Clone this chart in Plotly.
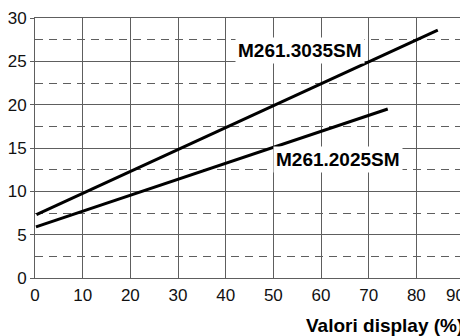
"""Display value vs. output chart for M261 models."""

import plotly.graph_objects as go

# Straight lines (display % -> value)
models = ["M261.3035SM", "M261.2025SM"]
display_pct = [[0.3, 84.5], [0.2, 74.0]]
values = [[7.3, 28.6], [5.9, 19.5]]

# Label anchor positions in data units
label_x = [55.6, 63.6]
label_y = [26.3, 13.7]

x_ticks = [0, 10, 20, 30, 40, 50, 60, 70, 80, 90]
y_ticks = [0, 5, 10, 15, 20, 25, 30]

GRID = "#5e5e5e"
FONT = "Liberation Sans, Arial, sans-serif"

fig = go.Figure()
for name, xs, ys in zip(models, display_pct, values):
    fig.add_trace(
        go.Scatter(
            x=xs,
            y=ys,
            mode="lines",
            name=name,
            line=dict(color="black", width=3),
            showlegend=False,
        )
    )

for name, lx, ly in zip(models, label_x, label_y):
    fig.add_annotation(
        x=lx,
        y=ly,
        text=f"<b>{name}</b>",
        showarrow=False,
        bgcolor="white",
        borderpad=2,
        font=dict(family=FONT, size=19, color="black"),
    )

# last x label sits flush with the right edge instead of centred on its tick
fig.add_annotation(
    x=x_ticks[-1],
    y=0,
    xanchor="right",
    yanchor="middle",
    xshift=3,
    yshift=-17,
    text=str(x_ticks[-1]),
    showarrow=False,
    font=dict(family=FONT, size=17, color="#111111"),
)

fig.add_annotation(
    x=1,
    y=0,
    xref="paper",
    yref="paper",
    xanchor="right",
    yanchor="middle",
    yshift=-47,
    xshift=1,
    text="<b>Valori display (%)</b>",
    showarrow=False,
    font=dict(family=FONT, size=19, color="black"),
)

fig.update_xaxes(
    range=[0, 90],
    tickvals=x_ticks[:-1],
    automargin=False,
    showgrid=True,
    gridcolor=GRID,
    gridwidth=1,
    showline=True,
    linecolor=GRID,
    linewidth=1,
    mirror=True,
    ticks="",
    ticklabelstandoff=2,
    zeroline=False,
    tickfont=dict(family=FONT, size=17, color="#111111"),
)
fig.update_yaxes(
    range=[0, 30],
    tickvals=y_ticks,
    automargin=False,
    showgrid=True,
    gridcolor=GRID,
    gridwidth=1,
    minor=dict(
        tick0=2.5,
        dtick=5,
        showgrid=True,
        gridcolor=GRID,
        gridwidth=1,
        griddash="8px,6px",
    ),
    showline=True,
    linecolor=GRID,
    linewidth=1,
    mirror=True,
    ticks="outside",
    ticklen=4,
    tickcolor=GRID,
    zeroline=False,
    tickfont=dict(family=FONT, size=17, color="#111111"),
)

# the page body adds an 8px offset, so the figure is 8px smaller each way
fig.update_layout(
    width=460,
    height=328,
    margin=dict(l=27, r=4, t=10, b=58),
    plot_bgcolor="white",
    paper_bgcolor="white",
)

fig.write_html("out.html")
